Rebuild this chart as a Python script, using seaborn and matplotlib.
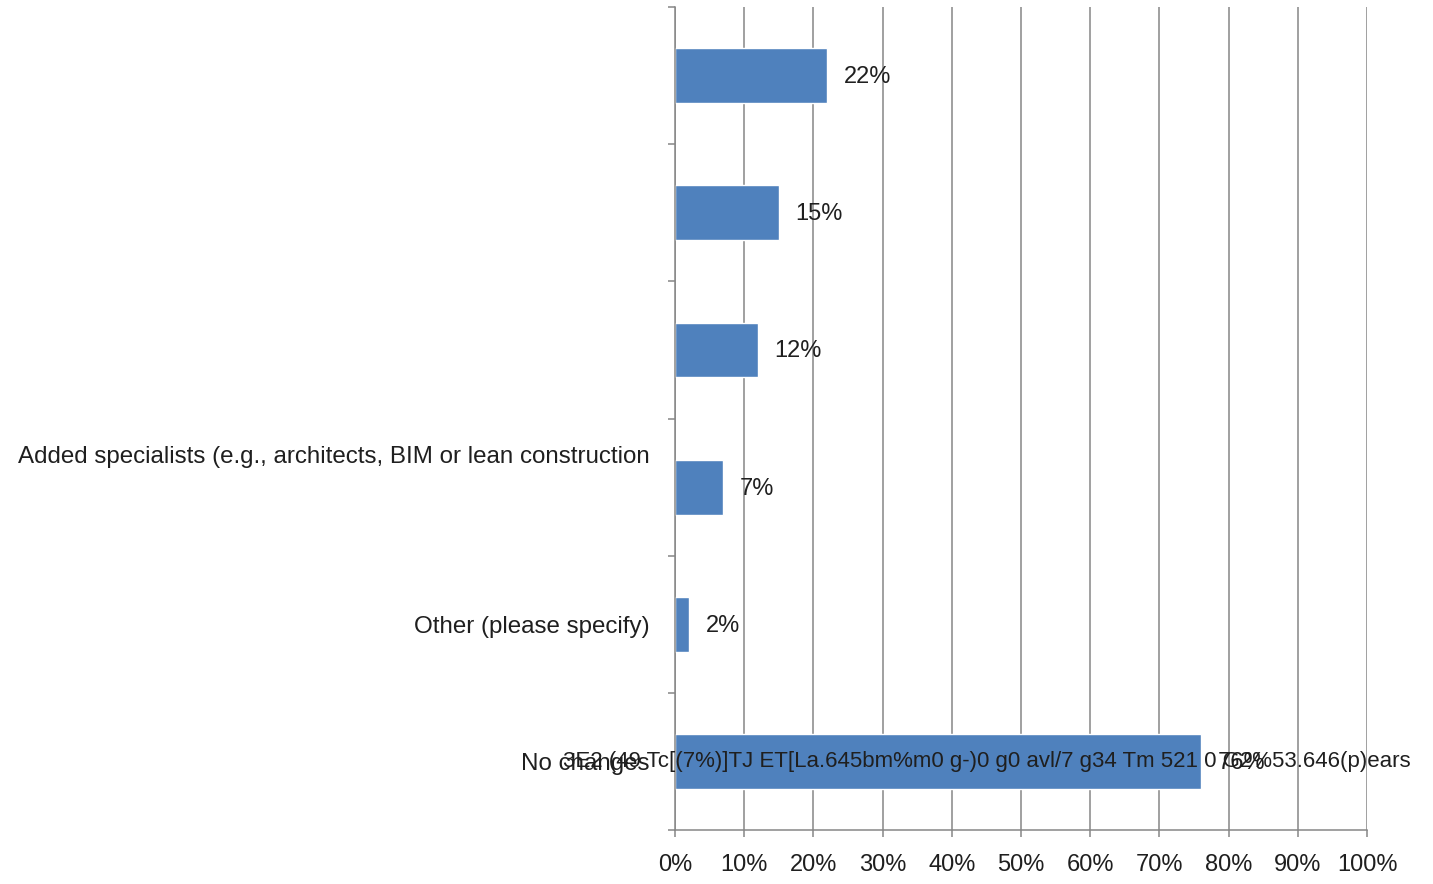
import numpy as np
import pandas as pd
import seaborn as sns
import matplotlib.pyplot as plt
import matplotlib.transforms as mtransforms
from matplotlib import font_manager

# data
rows = ['r1', 'r2', 'r3', 'r4', 'r5', 'r6']
labels = ['', '', '', 'Added specialists (e.g., architects, BIM or lean construction',
          'Other (please specify)', 'No changes']
values = [22, 15, 12, 7, 2, 76]
ticks = list(range(0, 101, 10))
tick_labels = [f'{t}%' for t in ticks]
garble = '3E2 (49 Tc[(7%)]TJ ET[La.645bm%m0 g-)0 g0 avl/7 g34 Tm 521 0 G2%53.646(p)ears'

df = pd.DataFrame({'row': rows, 'value': values})

sns.set_style('white')
names = {f.name for f in font_manager.fontManager.ttflist}
fam = 'Liberation Sans Narrow' if 'Liberation Sans Narrow' in names else 'Liberation Sans'
plt.rcParams['font.family'] = [fam, 'DejaVu Sans']

grey = '#868686'
txt = '#1f1f1f'

fig = plt.figure(figsize=(14.33, 8.84), dpi=100)
ax = fig.add_axes([0.471, 0.061, 0.483, 0.931])

sns.barplot(data=df, x='value', y='row', orient='h', color='#4F81BD',
            width=0.4, saturation=1, ax=ax, zorder=2)

ax.set_xlim(0, 100)
ax.set_ylim(5.5, -0.5)
ax.set_xticks(ticks)
ax.set_xticklabels(tick_labels, fontsize=17, color=txt)
ax.set_yticks(range(len(rows)))
ax.set_yticklabels(labels, fontsize=17.4, color=txt)
ax.set_yticks(np.arange(-0.5, 6, 1), minor=True)
ax.set_xlabel('')
ax.set_ylabel('')

ax.grid(axis='x', color=grey, linewidth=1.1, zorder=0)
ax.set_axisbelow(True)
for s in ['top', 'right']:
    ax.spines[s].set_visible(False)
for s in ['left', 'bottom']:
    ax.spines[s].set_color(grey)
    ax.spines[s].set_linewidth(1.1)

ax.tick_params(axis='x', which='major', direction='out', length=5, width=1.1,
               color=grey, pad=12, bottom=True)
ax.tick_params(axis='y', which='major', length=0, pad=18)
ax.tick_params(axis='y', which='minor', direction='out', length=5, width=1.1,
               color=grey, left=True)

# the long label sits a bit above its bar
lab = ax.get_yticklabels()[3]
lab.set_transform(lab.get_transform() +
                  mtransforms.ScaledTranslation(0, 0.33, fig.dpi_scale_trans))

# data labels
for i, v in enumerate(values):
    ax.annotate(f'{v}%', (v, i), xytext=(12, -1), textcoords='offset points',
                ha='left', va='center', fontsize=17, color=txt, zorder=3)

# broken text that the source chart prints over the last row
ax.text(-16.2, 5, garble, ha='left', va='center', fontsize=16, color=txt,
        clip_on=False, zorder=4)

fig.savefig('out.png', dpi=100)
